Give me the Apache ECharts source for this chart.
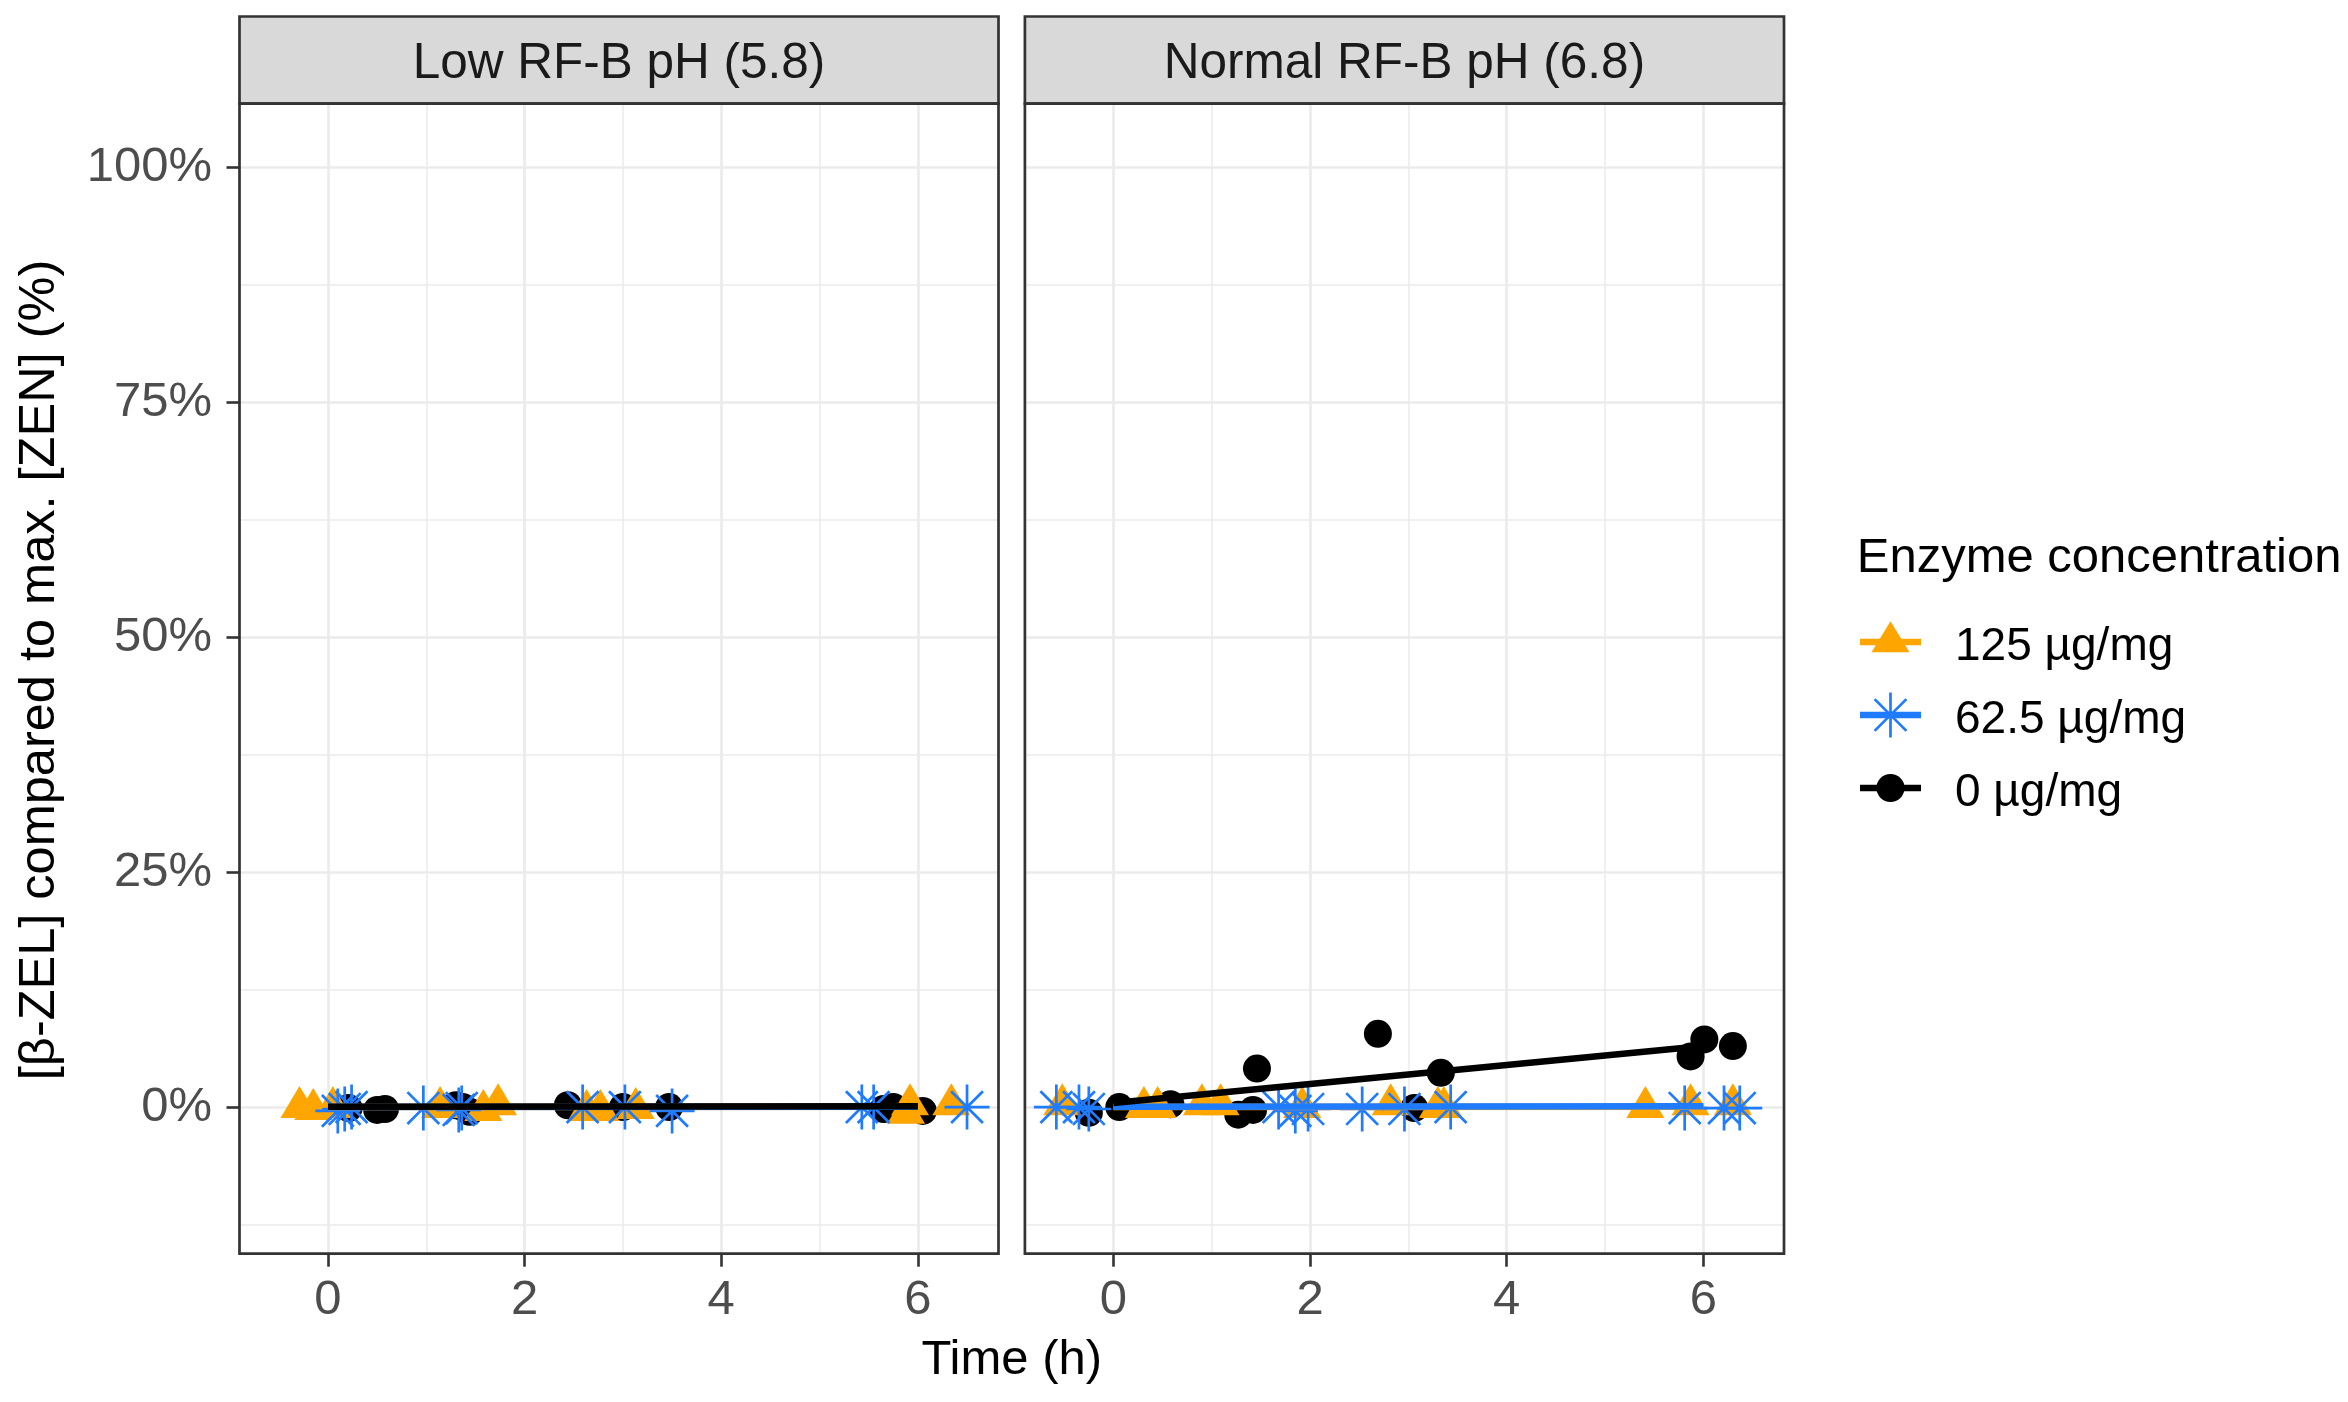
<!DOCTYPE html>
<html><head><meta charset="utf-8">
<script src="https://cdn.jsdelivr.net/npm/echarts@6/dist/echarts.min.js"></script>
<style>html,body{margin:0;padding:0;background:#fff}#chart{width:2348px;height:1402px}</style>
</head><body><div id="chart"></div>
<script>
// ---------------- data ----------------
const panelTitles = ['Low RF-B pH (5.8)', 'Normal RF-B pH (6.8)'];
const groupNames = ['125 µg/mg', '62.5 µg/mg', '0 µg/mg'];
const legendTitle = 'Enzyme concentration';
const xAxisTitle = 'Time (h)';
const yAxisTitle = '[β-ZEL] compared to max. [ZEN] (%)';
const xTicks = [0, 2, 4, 6];
const xMinorGrid = [1, 3, 5];
const yTicks = [0, 25, 50, 75, 100];
const yMinorGrid = [-12.5, 12.5, 37.5, 62.5, 87.5];
const xRange = [-0.9, 6.82];
const yRange = [-15.6, 106.8];

// points: [time (h, jittered), value (%)]
const low_125 = [[-0.29,0],[-0.15,-0.2],[0.05,0],[1.14,0],[1.58,-0.3],[1.73,0.3],[2.63,-0.3],[2.77,-0.3],[3.13,-0.1],[5.88,-0.6],[5.92,0.3],[6.34,0.3]];
const low_62_5 = [[0.10,-0.4],[0.17,-0.2],[0.24,0],[0.97,-0.1],[1.33,-0.3],[1.36,-0.1],[2.59,0],[3.02,0],[3.50,-0.4],[5.43,0],[5.55,0],[6.50,0]];
const low_0 = [[0.21,-0.1],[0.50,-0.3],[0.58,-0.2],[1.30,0.2],[1.37,0],[1.44,-0.5],[2.44,0.2],[3.00,0],[3.47,0],[5.65,-0.2],[5.75,0],[6.05,-0.4]];
const norm_125 = [[-0.52,0.3],[0.31,0],[0.45,0],[0.90,0.3],[1.09,0.3],[1.92,0],[2.82,0.3],[3.30,0],[3.36,0],[5.41,0],[5.87,0.3],[6.30,0.3]];
const norm_62_5 = [[-0.58,0],[-0.35,0],[-0.25,-0.2],[1.68,0],[1.85,-0.4],[1.98,-0.2],[2.53,-0.2],[2.96,-0.2],[3.43,0],[5.81,-0.1],[6.21,-0.1],[6.37,-0.1]];
const norm_0 = [[-0.25,-0.6],[0.06,0],[0.58,0.3],[1.27,-0.8],[1.42,-0.3],[1.46,4.1],[2.69,7.8],[3.06,-0.1],[3.33,3.65],[5.87,5.4],[6.01,7.2],[6.30,6.5]];

// fitted lines: [time, value]
const lowFit_125 = [[0,0],[6,0.05]];
const lowFit_62_5 = [[0,0],[6,0.05]];
const lowFit_0 = [[0,0.05],[6,0.1]];
const normFit_125 = [[0,0],[6,0.05]];
const normFit_62_5 = [[0,0.05],[6,0.1]];
const normFit_0 = [[0,0.45],[6,6.5]];

// ---------------- styles / layout ----------------
const FONT = '"Liberation Sans", Arial, sans-serif';
const colors = ['#FFA500', '#1F7BFF', '#000000'];
const starPath = 'path://M47 0L53 0L53 100L47 100Z M0 47L100 47L100 53L0 53Z M16.76 12.52L87.48 83.24L83.24 87.48L12.52 16.76Z M83.24 12.52L87.48 16.76L16.76 87.48L12.52 83.24Z';
const symbols = ['triangle', starPath, 'circle'];
const symSizes = [[38, 32], 45, 28];
const symOffsets = [[0, -5], [0, 0], [0, 0]];
const panels = [
  {left: 239.5, top: 103.6, width: 759, height: 1150.1},
  {left: 1024.9, top: 103.6, width: 759.1, height: 1150.1}
];
const stripTop = 16.5;
const borderC = '#333333';
const fitWidth = 6.5;

const points = [[low_125, low_62_5, low_0], [norm_125, norm_62_5, norm_0]];
const fits = [[lowFit_125, lowFit_62_5, lowFit_0], [normFit_125, normFit_62_5, normFit_0]];

const grids = panels.map(p => ({left: p.left, top: p.top, width: p.width, height: p.height, show: false, containLabel: false}));

const xAxes = panels.map((p, i) => ({
  type: 'value', gridIndex: i, min: xRange[0], max: xRange[1], position: 'bottom',
  splitLine: {show: false},
  axisLine: {show: false, onZero: false},
  axisTick: {show: true, customValues: xTicks, length: 13, lineStyle: {color: borderC, width: 2.6}},
  axisLabel: {show: true, customValues: xTicks, margin: 22, color: '#4D4D4D', fontSize: 49, fontFamily: FONT,
    formatter: v => (xTicks.indexOf(v) >= 0 ? String(v) : '')}
}));
const yAxes = panels.map((p, i) => ({
  type: 'value', gridIndex: i, min: yRange[0], max: yRange[1], position: 'left',
  splitLine: {show: false},
  axisLine: {show: false, onZero: false},
  axisTick: {show: i === 0, customValues: yTicks, length: 13, lineStyle: {color: borderC, width: 2.6}},
  axisLabel: {show: i === 0, customValues: yTicks, margin: 27.5, color: '#4D4D4D', fontSize: 49, fontFamily: FONT,
    formatter: v => (yTicks.indexOf(v) >= 0 ? v + '%' : '')}
}));

const series = [];
// gridlines (drawn from tick arrays through the axes), kept beneath the marks
panels.forEach((p, i) => {
  const md = [];
  yMinorGrid.forEach(v => md.push({yAxis: v, lineStyle: {width: 1.5}}));
  xMinorGrid.forEach(v => md.push({xAxis: v, lineStyle: {width: 1.5}}));
  yTicks.forEach(v => md.push({yAxis: v, lineStyle: {width: 2.7}}));
  xTicks.forEach(v => md.push({xAxis: v, lineStyle: {width: 2.7}}));
  series.push({
    type: 'line', xAxisIndex: i, yAxisIndex: i, data: [], z: 1, silent: true,
    markLine: {z: 1, silent: true, symbol: ['none', 'none'], animation: false, label: {show: false},
      lineStyle: {color: '#EBEBEB', type: 'solid'}, emphasis: {disabled: true}, data: md}
  });
});
// points: black, orange, blue drawing order
const pointOrder = [2, 0, 1];
panels.forEach((p, i) => {
  pointOrder.forEach(g => {
    series.push({
      type: 'scatter', name: groupNames[g], xAxisIndex: i, yAxisIndex: i, z: 2,
      data: points[i][g], symbol: symbols[g], symbolSize: symSizes[g], symbolOffset: symOffsets[g],
      itemStyle: {color: colors[g], opacity: 1}, silent: true
    });
  });
});
// fitted lines: orange, blue, black
panels.forEach((p, i) => {
  [0, 1, 2].forEach(g => {
    series.push({
      type: 'line', name: groupNames[g] + ' fit', xAxisIndex: i, yAxisIndex: i, z: 3,
      data: fits[i][g], showSymbol: false, symbol: 'none',
      lineStyle: {color: colors[g], width: fitWidth},
      emphasis: {disabled: true}
    });
  });
});

// ---------------- graphic: strips, borders, titles, legend ----------------
const graphic = [];
panels.forEach((p, i) => {
  graphic.push({type: 'rect', z: 100, shape: {x: p.left, y: stripTop, width: p.width, height: p.top - stripTop},
    style: {fill: '#D9D9D9', stroke: borderC, lineWidth: 2.7}});
  graphic.push({type: 'text', z: 101, x: p.left + p.width / 2, y: 64.5,
    style: {text: panelTitles[i], fill: '#1A1A1A', fontSize: 49.5, fontFamily: FONT, align: 'center', verticalAlign: 'middle'}});
  graphic.push({type: 'rect', z: 100, shape: {x: p.left, y: p.top, width: p.width, height: p.height},
    style: {fill: 'none', stroke: borderC, lineWidth: 2.7}});
});
graphic.push({type: 'text', z: 101, x: (panels[0].left + panels[1].left + panels[1].width) / 2, y: 1360.5,
  style: {text: xAxisTitle, fill: '#000', fontSize: 49, fontFamily: FONT, align: 'center', verticalAlign: 'middle'}});
graphic.push({type: 'text', z: 101, x: 40, y: 670, rotation: Math.PI / 2,
  style: {text: yAxisTitle, fill: '#000', fontSize: 50.5, fontFamily: FONT, align: 'center', verticalAlign: 'middle'}});
// legend
const lgX = 1890.5, lgLabelX = 1955, lgKeyY = [642, 715, 788], lgTextY = [647, 720, 793];
graphic.push({type: 'text', z: 101, x: 1856.7, y: 558.5,
  style: {text: legendTitle, fill: '#000', fontSize: 49, fontFamily: FONT, align: 'left', verticalAlign: 'middle'}});
groupNames.forEach((name, g) => {
  const cy = lgKeyY[g];
  graphic.push({type: 'line', z: 101, shape: {x1: lgX - 30.5, y1: cy, x2: lgX + 30.5, y2: cy},
    style: {stroke: colors[g], lineWidth: fitWidth}});
  if (g === 0) {
    graphic.push({type: 'polygon', z: 102, shape: {points: [[lgX, cy - 20.7], [lgX + 19, cy + 10.3], [lgX - 19, cy + 10.3]]},
      style: {fill: colors[g]}});
  } else if (g === 1) {
    const r = 22.5;
    [0, 45, 90, 135].forEach(a => {
      const rad = a * Math.PI / 180;
      graphic.push({type: 'line', z: 102, shape: {x1: lgX - r * Math.cos(rad), y1: cy - r * Math.sin(rad), x2: lgX + r * Math.cos(rad), y2: cy + r * Math.sin(rad)},
        style: {stroke: colors[g], lineWidth: 2.7}});
    });
  } else {
    graphic.push({type: 'circle', z: 102, shape: {cx: lgX, cy: cy, r: 14}, style: {fill: colors[g]}});
  }
  graphic.push({type: 'text', z: 101, x: lgLabelX, y: lgTextY[g],
    style: {text: name, fill: '#000', fontSize: 46, fontFamily: FONT, align: 'left', verticalAlign: 'middle'}});
});

const chart = echarts.init(document.getElementById('chart'), null, {renderer: 'canvas'});
chart.setOption({
  animation: false,
  backgroundColor: '#ffffff',
  grid: grids,
  xAxis: xAxes,
  yAxis: yAxes,
  series: series,
  graphic: graphic
});
</script>
</body></html>
